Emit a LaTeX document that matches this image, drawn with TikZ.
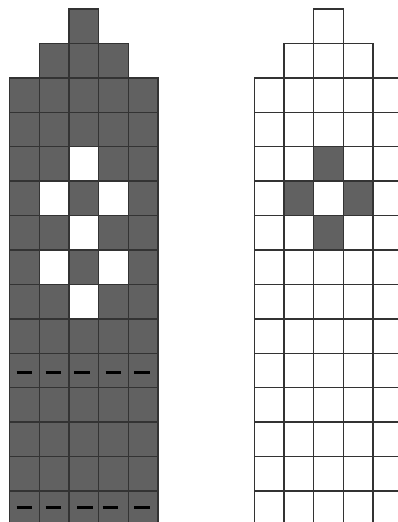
\documentclass[tikz,border=0pt]{standalone}
\begin{document}
\begin{tikzpicture}[x=1pt,y=-1pt,
  gridline/.style={draw=black!80,line width=1.4pt},
  darkcell/.style={gridline,fill=black!62},
  lightcell/.style={gridline,fill=white},
  barmark/.style={draw=black,line width=3pt}]
\useasboundingbox (0,0) rectangle (398,522);
\clip (0,0) rectangle (398,522);
\def\cw{29.7}
\def\ch{34.43}
\def\ytop{9}
% ---- left grid ----
\def\xl{9.5}
\foreach \c in {2}{\path[darkcell] (\xl+\c*\cw,\ytop) rectangle ++(\cw,\ch);}
\foreach \c in {1,2,3}{\path[darkcell] (\xl+\c*\cw,\ytop+\ch) rectangle ++(\cw,\ch);}
\foreach \r in {2,...,14}{\foreach \c in {0,...,4}{
  \path[darkcell] (\xl+\c*\cw,\ytop+\r*\ch) rectangle ++(\cw,\ch);}}
\foreach \r/\c in {4/2,5/1,5/3,6/2,7/1,7/3,8/2}{
  \path[lightcell] (\xl+\c*\cw,\ytop+\r*\ch) rectangle ++(\cw,\ch);}
% dashes
\foreach \a in {16.7,45.7,74,105.7,134.3}{\draw[barmark] (\a,372.7) -- ++(15.5,0);}
\foreach \a in {16.7,45.7,77.3,102.7,134.3}{\draw[barmark] (\a,507.7) -- ++(15.5,0);}
% ---- right grid ----
\def\xr{254.3}
\foreach \c in {2}{\path[lightcell] (\xr+\c*\cw,\ytop) rectangle ++(\cw,\ch);}
\foreach \c in {1,2,3}{\path[lightcell] (\xr+\c*\cw,\ytop+\ch) rectangle ++(\cw,\ch);}
\foreach \r in {2,...,14}{\foreach \c in {0,...,5}{
  \path[lightcell] (\xr+\c*\cw,\ytop+\r*\ch) rectangle ++(\cw,\ch);}}
\foreach \r/\c in {4/2,5/1,5/3,6/2}{
  \path[darkcell] (\xr+\c*\cw,\ytop+\r*\ch) rectangle ++(\cw,\ch);}
\end{tikzpicture}
\end{document}
